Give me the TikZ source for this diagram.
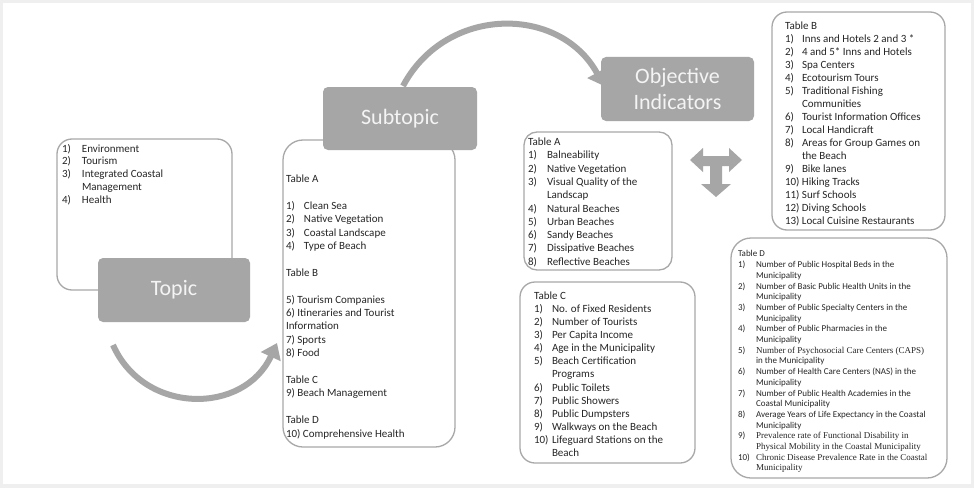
\documentclass[tikz,border=0pt]{standalone}
\usepackage{fontspec}
\setmainfont{Carlito}
\newfontfamily\timesf{Liberation Serif}
\usetikzlibrary{arrows.meta}
\definecolor{lbl}{HTML}{A6A6A6}
\definecolor{lbltxt}{HTML}{F4F4F4}
\definecolor{boxln}{HTML}{A8A8A8}
\definecolor{txt}{HTML}{262626}
\definecolor{bgframe}{HTML}{EFEFEF}
\newcommand\numbx[2][18pt]{\makebox[#1][l]{#2}}
\begin{document}
\begin{tikzpicture}[x=1pt,y=-1pt,
  listbox/.style={draw=boxln, line width=1.3pt, rounded corners=15pt, inner sep=0pt, outer sep=0pt},
  labelbox/.style={fill=lbl, rounded corners=5pt, inner sep=0pt, outer sep=0pt},
  labeltext/.style={text=lbltxt, font=\fontsize{22}{26}\selectfont, align=center},
  listtext/.style={anchor=north west, inner sep=0pt, outer sep=0pt, text=txt},
  bigarrow/.style={draw=lbl, line width=6pt, -{Triangle[length=15pt,width=21pt]}},
  tshape/.style={fill=lbl, draw=none},
]
\useasboundingbox (0,0) rectangle (974,487);
\fill[white] (0,0) rectangle (974,487);
\draw[bgframe, line width=6pt] (0,0) rectangle (974,487);

% list boxes
\node[listbox, minimum width=175pt, minimum height=151pt] (topicbox) at (144.5,214.5) {};
\node[listbox, rounded corners=20pt, minimum width=172pt, minimum height=307pt] (subbox) at (369,293.5) {};
\node[listbox, rounded corners=13pt, minimum width=148pt, minimum height=138pt] (tabA) at (598,201) {};
\node[listbox, minimum width=175pt, minimum height=181pt] (tabC) at (607.5,372.5) {};
\node[listbox, minimum width=173pt, minimum height=218pt] (tabB) at (858.5,121) {};
\node[listbox, rounded corners=20pt, minimum width=216pt, minimum height=240pt] (tabD) at (839,358) {};

% labels
\node[labelbox, labeltext, minimum width=152pt, minimum height=64pt] (topic) at (174,290) {Topic};
\node[labelbox, labeltext, minimum width=154pt, minimum height=63pt] (subtopic) at (400,118.5) {Subtopic};
\node[labelbox, labeltext, minimum width=153pt, minimum height=64pt] (objind) at (677.5,89) {Objective\\Indicators};

% topic list
\node[listtext, font=\fontsize{11}{12.8}\selectfont] (topiclist) at (62,143.2) {\begin{tabular}{@{}l@{}}
\numbx[20pt]{1)}Environment\\
\numbx[20pt]{2)}Tourism\\
\numbx[20pt]{3)}Integrated Coastal\\
\numbx[20pt]{}Management\\
\numbx[20pt]{4)}Health
\end{tabular}};

% subtopic list
\node[listtext, font=\fontsize{11}{13.4}\selectfont] (sublist) at (286,173.2) {\begin{tabular}{@{}l@{}}
Table A\\
\\
\numbx[18pt]{1)}Clean Sea\\
\numbx[18pt]{2)}Native Vegetation\\
\numbx[18pt]{3)}Coastal Landscape\\
\numbx[18pt]{4)}Type of Beach\\
\\
Table B\\
\\
5) Tourism Companies\\
6) Itineraries and Tourist\\
Information\\
7) Sports\\
8) Food\\
\\
Table C\\
9) Beach Management\\
\\
Table D\\
10) Comprehensive Health
\end{tabular}};

% Table A
\node[listtext, font=\fontsize{11}{13.3}\selectfont] (listA) at (528,136.2) {\begin{tabular}{@{}l@{}}
Table A\\
\numbx[19pt]{1)}Balneability\\
\numbx[19pt]{2)}Native Vegetation\\
\numbx[19pt]{3)}Visual Quality of the\\
\numbx[19pt]{}Landscap\\
\numbx[19pt]{4)}Natural Beaches\\
\numbx[19pt]{5)}Urban Beaches\\
\numbx[19pt]{6)}Sandy Beaches\\
\numbx[19pt]{7)}Dissipative Beaches\\
\numbx[19pt]{8)}Reflective Beaches
\end{tabular}};

% Table C
\node[listtext, font=\fontsize{11}{13.1}\selectfont] (listC) at (534,290.2) {\begin{tabular}{@{}l@{}}
Table C\\
\numbx{1)}No. of Fixed Residents\\
\numbx{2)}Number of Tourists\\
\numbx{3)}Per Capita Income\\
\numbx{4)}Age in the Municipality\\
\numbx{5)}Beach Certification\\
\numbx{}Programs\\
\numbx{6)}Public Toilets\\
\numbx{7)}Public Showers\\
\numbx{8)}Public Dumpsters\\
\numbx{9)}Walkways on the Beach\\
\numbx{10)}Lifeguard Stations on the\\
\numbx{}Beach
\end{tabular}};

% Table B
\node[listtext, font=\fontsize{11}{13.0}\selectfont] (listB) at (785,20.2) {\begin{tabular}{@{}l@{}}
Table B\\
\numbx[17pt]{1)}Inns and Hotels 2 and 3 *\\
\numbx[17pt]{2)}4 and 5* Inns and Hotels\\
\numbx[17pt]{3)}Spa Centers\\
\numbx[17pt]{4)}Ecotourism Tours\\
\numbx[17pt]{5)}Traditional Fishing\\
\numbx[17pt]{}Communities\\
\numbx[17pt]{6)}Tourist Information Offices\\
\numbx[17pt]{7)}Local Handicraft\\
\numbx[17pt]{8)}Areas for Group Games on\\
\numbx[17pt]{}the Beach\\
\numbx[17pt]{9)}Bike lanes\\
10) Hiking Tracks\\
11) Surf Schools\\
12) Diving Schools\\
13) Local Cuisine Restaurants
\end{tabular}};

% Table D
\node[listtext, font=\fontsize{9}{10.7}\selectfont] (listD) at (738,249.5) {\begin{tabular}{@{}l@{}}
Table D\\
\numbx{1)}Number of Public Hospital Beds in the\\
\numbx{}Municipality\\
\numbx{2)}Number of Basic Public Health Units in the\\
\numbx{}Municipality\\
\numbx{3)}Number of Public Specialty Centers in the\\
\numbx{}Municipality\\
\numbx{4)}Number of Public Pharmacies in the\\
\numbx{}Municipality\\
\numbx{5)}{\timesf Number of Psychosocial Care Centers (CAPS)}\\
\numbx{}in the Municipality\\
\numbx{6)}Number of Health Care Centers (NAS) in the\\
\numbx{}Municipality\\
\numbx{7)}Number of Public Health Academies in the\\
\numbx{}Coastal Municipality\\
\numbx{8)}Average Years of Life Expectancy in the Coastal\\
\numbx{}Municipality\\
\numbx{9)}{\timesf Prevalence rate of Functional Disability in}\\
\numbx{}{\timesf Physical Mobility in the Coastal Municipality}\\
\numbx{10)}{\timesf Chronic Disease Prevalence Rate in the Coastal}\\
\numbx{}{\timesf Municipality}
\end{tabular}};

% curved arrows
\coordinate (b0) at (113,345);
\coordinate (b1) at (277,343);
\draw[bigarrow] (b0) .. controls (144,415) and (244,415) .. (b1);
\coordinate (t0) at (403,86);
\coordinate (t1) at (604,86);
\draw[bigarrow] (t0) .. controls (446,5) and (560,5) .. (t1);

% T-shaped three-way arrow
\fill[tshape] (690,160) -- (703,148) -- (703,156) -- (729,156) -- (729,148) -- (742,160)
  -- (729,172) -- (729,166) -- (722,166) -- (722,184) -- (731,184) -- (716,197)
  -- (701,184) -- (710,184) -- (710,166) -- (703,166) -- (703,172) -- cycle;
\end{tikzpicture}
\end{document}
